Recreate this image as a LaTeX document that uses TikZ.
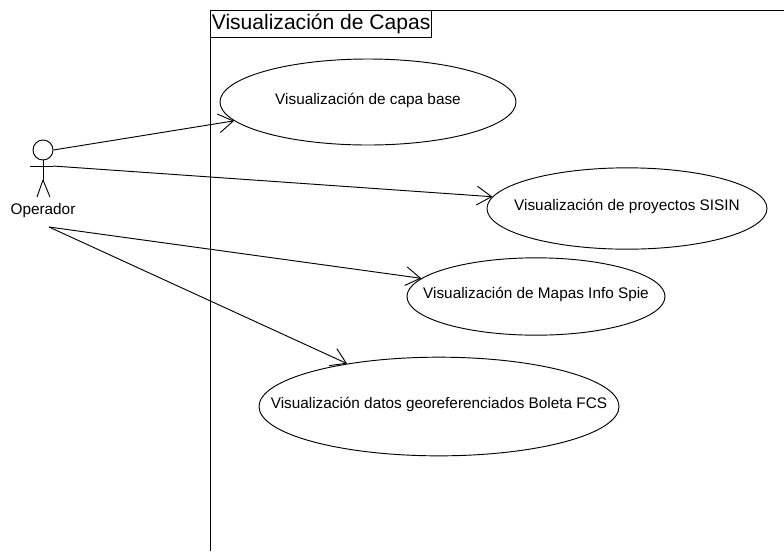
\documentclass[tikz,border=0pt]{standalone}
\usepackage{fontspec}
\setmainfont{Liberation Sans}
\usetikzlibrary{shapes.geometric,arrows.meta}
\begin{document}
\begin{tikzpicture}
  [x=0.75pt,y=-0.75pt,line width=0.7pt,
    usecase/.style={ellipse,draw,inner xsep=-40pt,inner ysep=0pt,text depth=5pt,text height=8pt,font=\fontsize{11.5pt}{13pt}\selectfont},
    link/.style={-{Straight Barb[length=11pt,width=14pt]}}]
  \useasboundingbox (0,0) rectangle (784,551);
  % system box
  \draw (210,10) -- (784,10);
  \draw (210,10) -- (210,551);
  \node[draw,anchor=north west,inner sep=0pt,minimum width=166pt,minimum height=20pt,font=\fontsize{15.8pt}{17pt}\selectfont] (title) at (210,10) {Visualización de Capas};
  % use cases
  \node[usecase,minimum width=222pt,minimum height=64.5pt] (base) at (368,102) {Visualización de capa base};
  \node[usecase,minimum width=210pt,minimum height=61pt] (sisin) at (627,208.5) {Visualización de proyectos SISIN};
  \node[usecase,minimum width=193.5pt,minimum height=58pt] (spie) at (536,296.5) {Visualización de Mapas Info Spie};
  \node[usecase,minimum width=270pt,minimum height=74pt] (fcs) at (439,406.5) {Visualización datos georeferenciados Boleta FCS};
  % actor
  \node[circle,draw,minimum size=15pt,inner sep=0pt] (head) at (43,150) {};
  \coordinate (hip) at (43,180);
  \draw (head.south) -- (hip);
  \draw (30,166) -- (53,166);
  \draw (hip) -- (37,197);
  \draw (hip) -- (50,197);
  \node[font=\fontsize{11.5pt}{13pt}\selectfont] (operador) at (43,211) {Operador};
  \coordinate (a2) at (53,166);
  \coordinate (a3) at (49,227);
  % links
  \draw[link] (head.east) -- (base.188);
  \draw[link] (a2) -- (sisin.175.55);
  \draw[link] (a3) -- (spie.171.9);
  \draw[link] (a3) -- (fcs.155);
\end{tikzpicture}
\end{document}
